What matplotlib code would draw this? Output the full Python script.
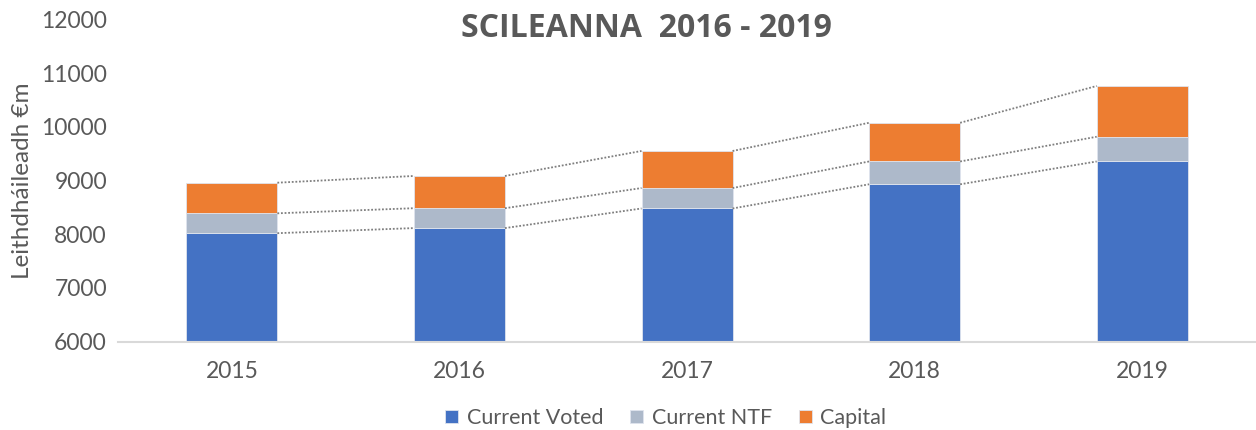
import numpy as np
import matplotlib.pyplot as plt

plt.rcParams['font.family'] = ['Lato', 'DejaVu Sans']

## donnees
annees = ['2015', '2016', '2017', '2018', '2019']
current_voted = [8020, 8115, 8480, 8930, 9355]
current_ntf = [370, 370, 380, 425, 460]
capital = [570, 600, 690, 720, 945]

couleurs = ['#4472C4', '#ADB9CA', '#ED7D31']
series = [('Current Voted', current_voted), ('Current NTF', current_ntf), ('Capital', capital)]
texte = '#595959'
base = 6000

## figure
fig = plt.figure(figsize=(12.56, 4.3), dpi=100)
ax = fig.add_axes([0.094, 0.2053, 0.906, 0.7497])

x = np.arange(len(annees))
larg = 0.4
cumul = np.zeros(len(annees))
hauts = []
for (nom, vals), coul in zip(series, couleurs):
    v = np.array(vals, dtype=float)
    if cumul.sum() == 0:  # premiere serie : on part de l'axe (6000)
        ax.bar(x, v - base, larg, bottom=base, color=coul, edgecolor='#dfe4ee', linewidth=0.6, label=nom)
    else:
        ax.bar(x, v, larg, bottom=cumul, color=coul, edgecolor='#dfe4ee', linewidth=0.6, label=nom)
    cumul = cumul + v
    hauts.append(cumul.copy())

# lignes de serie (pointillés entre les barres)
for h in hauts:
    for k in range(len(annees) - 1):
        ax.plot([x[k] + larg / 2, x[k + 1] - larg / 2], [h[k], h[k + 1]],
                color='#7f7f7f', linestyle=(0, (1, 1)), linewidth=1.3)

ax.set_xlim(-0.5, 4.5)
ax.set_ylim(6000, 12000)
ax.set_yticks(range(6000, 12001, 1000))
ax.set_xticks(x)
ax.set_xticklabels(annees)
ax.tick_params(length=0, labelsize=16.5, colors=texte)
ax.tick_params(axis='x', pad=14)
ax.tick_params(axis='y', pad=8)
for s in ['top', 'right', 'left']:
    ax.spines[s].set_visible(False)
ax.spines['bottom'].set_color('#d9d9d9')
ax.spines['bottom'].set_linewidth(1.5)
ax.set_ylabel('Leithdháileadh €m', fontsize=17.5, color=texte, labelpad=6)

fig.text(0.515, 0.933, 'SCILEANNA  2016 - 2019', fontsize=23, fontweight='bold',
         family=['Open Sans', 'DejaVu Sans'], color=texte, ha='center', va='center')

leg = fig.legend(loc='center', bbox_to_anchor=(0.530, 0.028), ncol=3, frameon=False,
                 fontsize=15.5, handlelength=0.6, handleheight=0.6, handletextpad=0.4,
                 columnspacing=1.25, labelcolor=texte)

fig.savefig('out.png', dpi=100)
